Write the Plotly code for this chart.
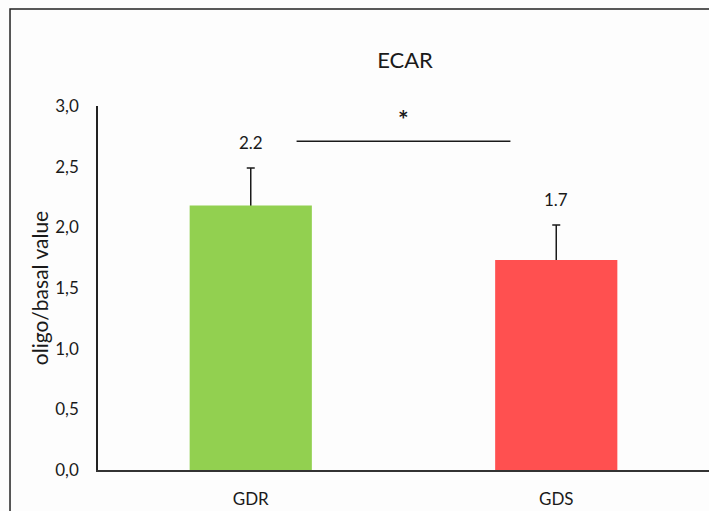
import plotly.graph_objects as go

# Group data
groups = ["GDR", "GDS"]
means = [2.18, 1.73]
errors = [0.31, 0.29]
bar_colors = ["#92D050", "#FF5050"]

# Y axis ticks (comma decimal)
y_ticks = [0.0, 0.5, 1.0, 1.5, 2.0, 2.5, 3.0]
y_tick_labels = ["0,0", "0,5", "1,0", "1,5", "2,0", "2,5", "3,0"]

# Significance bracket between the two groups
sig_x = [0.15, 0.85]
sig_y = 2.71
sig_mark = "*"
sig_mark_y = 2.89

FONT = "Lato, 'Open Sans', sans-serif"
INK = "#1a1a1a"

fig = go.Figure()
# Transparent carrier for the upper error bars; the lower cap sits inside the bar
fig.add_trace(go.Bar(
    x=groups,
    y=means,
    marker=dict(color="rgba(0,0,0,0)", line=dict(width=0)),
    error_y=dict(type="data", array=errors, arrayminus=[0.03] * len(errors),
                 symmetric=False, color=INK, thickness=1.5, width=4),
    showlegend=False,
    hoverinfo="skip",
))
# Visible bars drawn on top
fig.add_trace(go.Bar(
    x=groups,
    y=means,
    marker=dict(color=bar_colors, line=dict(width=0)),
    showlegend=False,
    hoverinfo="skip",
))

# Value labels above the error bars
for g, m, e in zip(groups, means, errors):
    fig.add_annotation(x=g, y=m + e, text=f"{m:.1f}", showarrow=False,
                       yanchor="middle", yshift=25,
                       font=dict(family=FONT, size=17, color=INK))

# Significance line and marker
fig.add_shape(type="line", xref="x", yref="y",
              x0=sig_x[0], x1=sig_x[1], y0=sig_y, y1=sig_y,
              line=dict(color=INK, width=1.5))
fig.add_annotation(x=(sig_x[0] + sig_x[1]) / 2, y=sig_mark_y,
                   text=f"<b>{sig_mark}</b>", showarrow=False,
                   font=dict(family=FONT, size=25, color=INK))

# Outer frame around the chart area
fig.add_shape(type="rect", xref="paper", yref="paper",
              x0=-0.144, x1=1.05, y0=-0.3, y1=1.2665,
              line=dict(color="#222222", width=1.5), fillcolor="rgba(0,0,0,0)",
              layer="below")

fig.update_layout(
    width=709, height=511,
    margin=dict(l=98, r=0, t=106, b=41),
    paper_bgcolor="#fdfdfd",
    plot_bgcolor="#fdfdfd",
    barmode="overlay",
    bargap=0.6,
    font=dict(family=FONT, color=INK),
    title=dict(text="ECAR", x=405 / 709, xanchor="center",
               y=1 - 60 / 511, yanchor="middle",
               font=dict(family=FONT, size=22, color=INK)),
    xaxis=dict(range=[-0.5, 1.5], showline=True, linecolor="#333333",
               linewidth=2, ticks="", showgrid=False, zeroline=False,
               tickfont=dict(family=FONT, size=17, color=INK),
               ticklabelstandoff=13),
    yaxis=dict(range=[0, 3.0], tickvals=y_ticks, ticktext=y_tick_labels,
               showline=True, linecolor="#222222", linewidth=1.5,
               ticks="", showgrid=False, zeroline=False,
               tickfont=dict(family=FONT, size=17, color=INK),
               ticklabelstandoff=14,
               title=dict(text="oligo/basal value", standoff=1,
                          font=dict(family=FONT, size=21, color=INK))),
)

fig.write_html("out.html")
